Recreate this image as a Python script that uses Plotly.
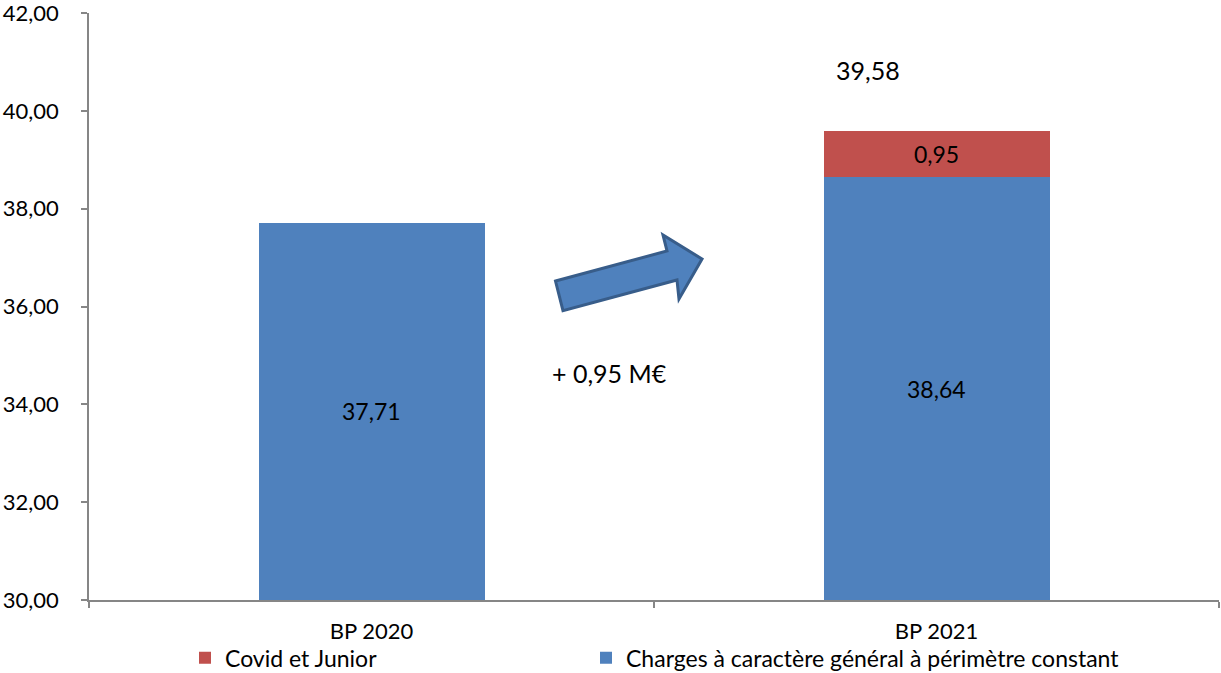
import plotly.graph_objects as go

# Budget figures (M€)
categories = ["BP 2020", "BP 2021"]
charges_constantes = [37.71, 38.64]
covid_junior = [None, 0.95]
total_2021 = 39.58
variation = 0.95

y_min, y_max = 30, 42
y_ticks = [30, 32, 34, 36, 38, 40, 42]

BLUE = "#4F81BD"
RED = "#C0504D"
AXIS = "#868686"
FONT = "Lato"


def fr(v):
    return f"{v:.2f}".replace(".", ",")


fig = go.Figure()

fig.add_trace(go.Bar(
    x=categories, y=charges_constantes, name="Charges à caractère général à périmètre constant",
    marker=dict(color=BLUE, line=dict(width=0)), width=0.4, legend="legend2",
))
fig.add_trace(go.Bar(
    x=categories, y=covid_junior, name="Covid et Junior",
    marker=dict(color=RED, line=dict(width=0)), width=0.4, legend="legend",
    text=[fr(v) if v is not None else "" for v in covid_junior],
    textposition="inside", insidetextanchor="middle",
    textfont=dict(family=FONT, size=23, color="black"),
))

annotations = []
# Values of the blue bars, centred in their visible part
for i, v in enumerate(charges_constantes):
    annotations.append(dict(
        x=i, y=(y_min + v) / 2, xref="x", yref="y", text=fr(v), showarrow=False,
        font=dict(family=FONT, size=23, color="black"),
    ))
# Total for 2021
annotations.append(dict(
    x=0.879, y=total_2021 + 1.26, xref="x", yref="y", text=fr(total_2021), showarrow=False,
    font=dict(family=FONT, size=25, color="black"),
))
# Variation label
annotations.append(dict(
    x=0.422, y=34.64, xref="x", yref="y", text="+ " + fr(variation) + " M€", showarrow=False,
    font=dict(family=FONT, size=25, color="black"),
))

# Block arrow between the two bars
arrow_pts = [
    (0.3257, 36.52), (0.523, 37.135), (0.5159, 37.462), (0.585, 36.971),
    (0.5442, 36.153), (0.5407, 36.542), (0.3389, 35.914),
]
path = "M " + " L ".join(f"{x},{y}" for x, y in arrow_pts) + " Z"

legend_style = dict(
    orientation="h", xanchor="left", y=-0.062, yanchor="top",
    font=dict(family=FONT, size=23, color="black"),
    bgcolor="rgba(0,0,0,0)",
)

fig.update_layout(
    shapes=[dict(type="path", xref="x", yref="y", path=path,
                 fillcolor=BLUE, line=dict(color="#385D8A", width=3))],
    annotations=annotations,
    barmode="stack",
    width=1221, height=673,
    margin=dict(l=89, r=2, t=13, b=73, autoexpand=False),
    paper_bgcolor="white", plot_bgcolor="white",
    font=dict(family=FONT, size=22, color="black"),
    showlegend=True,
    legend=dict(x=(185 - 89) / 1130, **legend_style),
    legend2=dict(x=(586 - 89) / 1130, **legend_style),
    xaxis=dict(
        type="category", range=[-0.5, 1.5], showline=True, linecolor=AXIS, linewidth=1.5,
        ticks="outside", tickson="boundaries", ticklen=6, tickcolor=AXIS, tickwidth=1.5,
        showgrid=False, ticklabelstandoff=11, automargin=False,
        tickfont=dict(family=FONT, size=22, color="black"),
    ),
    yaxis=dict(
        range=[y_min, y_max], tickvals=y_ticks, ticktext=[fr(v) for v in y_ticks],
        showline=True, linecolor=AXIS, linewidth=1.5, ticks="outside", ticklen=6,
        tickcolor=AXIS, tickwidth=1.5, showgrid=False, zeroline=False,
        ticklabelstandoff=18, ticklabeloverflow="allow", automargin=False,
        tickfont=dict(family=FONT, size=22, color="black"),
    ),
)

fig.write_html("out.html")
